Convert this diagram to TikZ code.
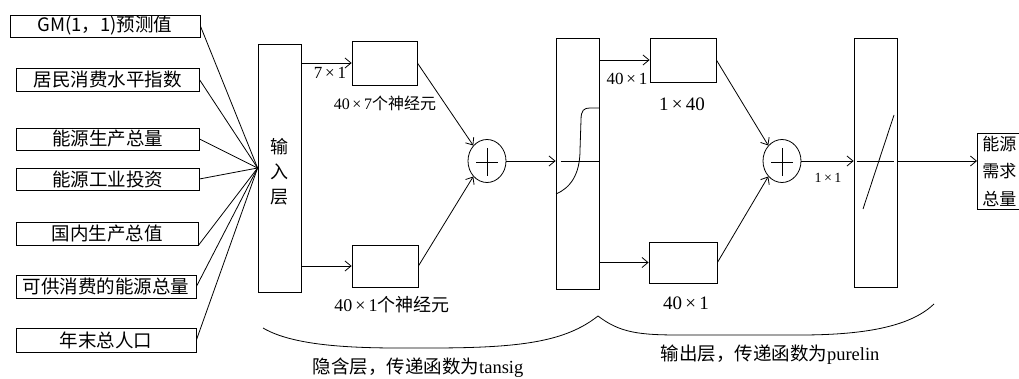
\documentclass[tikz,border=0pt]{standalone}
\usepackage{fontspec}
\setmainfont{Liberation Serif}
\newfontfamily\cjk{Noto Sans CJK SC}
\usetikzlibrary{arrows.meta,shapes.geometric}
\newcommand\tm{\,×\,}
\begin{document}
\begin{tikzpicture}[x=1pt,y=-1pt,line width=0.8pt,
  >={Straight Barb[length=6pt,width=10pt]},
  inbox/.style={draw,inner sep=0pt,font=\cjk\fontsize{18.5}{20}\selectfont},
  nbox/.style={draw,inner sep=0pt},
  lbl/.style={inner sep=0pt},
  sumnode/.style={draw,ellipse,minimum width=38pt,minimum height=43pt,inner sep=0pt}]
\useasboundingbox (0,0) rectangle (1019,379);
\clip (0,0) rectangle (1019,379);
% input boxes
\node[inbox,minimum width=190pt,minimum height=22pt] (in1) at (105,26) {GM(1，1)预测值};
\node[inbox,minimum width=183pt,minimum height=23pt] (in2) at (107.5,79.5) {居民消费水平指数};
\node[inbox,minimum width=183pt,minimum height=22pt] (in3) at (107.5,139) {能源生产总量};
\node[inbox,minimum width=183pt,minimum height=22pt] (in4) at (107.5,179) {能源工业投资};
\node[inbox,minimum width=182pt,minimum height=23pt] (in5) at (107,233.5) {国内生产总值};
\node[inbox,minimum width=180pt,minimum height=23pt] (in6) at (106,286.5) {可供消费的能源总量};
\node[inbox,minimum width=180pt,minimum height=24pt] (in7) at (106,340) {年末总人口};
% input layer
\node[nbox,minimum width=43pt,minimum height=248pt] (inl) at (279.5,168) {};
\node[lbl,align=center,font=\cjk\fontsize{18}{25}\selectfont] (inltxt) at (279,172) {输\\入\\层};
\foreach \i in {in1,in2,in3,in4,in6,in7} \draw (\i.east) -- (inl.west);
\draw (in5.south east) -- (inl.west);
% hidden layer neurons
\node[nbox,minimum width=65pt,minimum height=44pt] (n1) at (384.5,63) {};
\node[nbox,minimum width=66pt,minimum height=42pt] (n2) at (385,266) {};
\draw[->] (inl.east |- n1.west) -- (n1.west);
\draw[->] (inl.east |- n2.west) -- (n2.west);
\node[lbl,font=\fontsize{17}{18}\selectfont] (l71) at (330,73) {7\tm 1};
\node[lbl,font=\fontsize{16}{18}\selectfont] (l407) at (385,103) {40\tm 7{\cjk 个神经元}};
\node[lbl,font=\fontsize{18}{20}\selectfont] (l401) at (392,305) {40\tm 1{\cjk 个神经元}};
\node[sumnode] (s1) at (487,161) {};
\draw (s1.center) +(-11,1) -- +(11,1) (s1.center) +(0,-13) -- +(0,15);
\draw[->] (n1.east) -- (s1.north west);
\draw[->] (n2.east) -- (s1.south west);
% hidden layer transfer
\node[nbox,minimum width=43pt,minimum height=251pt] (h) at (577.5,163.5) {};
\draw[->] (s1.east) -- (s1.east -| h.west);
\draw ([xshift=5pt]h.west |- s1.east) -- (h.east |- s1.east);
\draw (556,194) .. controls (570,188) and (580,175) .. (580,150) -- (581,120) .. controls (581,110) and (584,108) .. (590,108) -- (599,108);
% output layer neurons
\node[nbox,minimum width=66pt,minimum height=44pt] (o1) at (683,60) {};
\node[nbox,minimum width=68pt,minimum height=41pt] (o2) at (683,262.5) {};
\draw[->] (h.east |- o1.west) -- (o1.west);
\draw[->] (h.east |- o2.west) -- (o2.west);
\node[lbl,font=\fontsize{17}{18}\selectfont] (l401b) at (627,79) {40\tm 1};
\node[lbl,font=\fontsize{19}{20}\selectfont] (l140) at (682,104) {1\tm 40};
\node[lbl,font=\fontsize{19}{20}\selectfont] (l401c) at (686,303) {40\tm 1};
\node[sumnode] (s2) at (782,161) {};
\draw (s2.center) +(-11,1) -- +(11,1) (s2.center) +(0,-13) -- +(0,15);
\draw[->] (o1.east) -- (s2.north west);
\draw[->] (o2.east) -- (s2.south west);
% output transfer
\node[nbox,minimum width=43pt,minimum height=249pt] (p) at (875.5,162.5) {};
\draw[->] (s2.east) -- (s2.east -| p.west);
\node[lbl,font=\fontsize{14}{15}\selectfont] (l11) at (828,178) {1\tm 1};
\draw ([xshift=3pt]p.west |- s2.east) -- ([xshift=-3pt]p.east |- s2.east);
\draw (863,209) -- (894,115);
% final
\node[draw,anchor=west,text width=50pt,align=left,inner xsep=5pt,inner ysep=0pt,minimum height=76pt,font=\cjk\fontsize{17}{27.5}\selectfont] (f) at (977,171) {能源\\需求\\总量};
\draw[->] (p.east |- s2.east) -- (f.west |- s2.east);
% braces
\draw (263,328) .. controls (300,350) and (380,348) .. (430,348) .. controls (520,348) and (565,342) .. (598,316);
\draw (598,316) .. controls (620,333) and (640,335) .. (680,335) -- (800,335) .. controls (870,335) and (912,325) .. (934,304);
\node[lbl,font=\fontsize{18.5}{20}\selectfont] (lh) at (418,368) {{\cjk 隐含层，传递函数为}tansig};
\node[lbl,font=\fontsize{18.5}{20}\selectfont] (lo) at (770,355) {{\cjk 输出层，传递函数为}purelin};
\end{tikzpicture}
\end{document}
